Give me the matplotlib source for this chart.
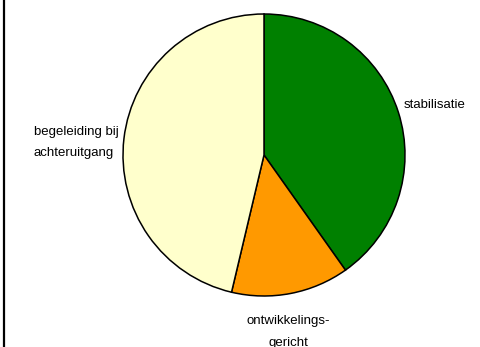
import numpy as np
import matplotlib.pyplot as plt
from matplotlib.lines import Line2D

plt.rcParams["font.family"] = ["Liberation Sans", "DejaVu Sans"]

labels = ["stabilisatie", "ontwikkelings-\ngericht", "begeleiding bij\nachteruitgang"]
values = [40.2, 13.5, 46.3]
colors = ["#008000", "#FF9900", "#FFFFCC"]

fig = plt.figure(figsize=(4.81, 3.47), dpi=100)
ax = fig.add_axes([123 / 481, 51 / 347, 282 / 481, 282 / 347])

wedges, texts = ax.pie(
    values, labels=labels, colors=colors, startangle=90, counterclock=False,
    radius=1.0, labeldistance=1.04,
    wedgeprops=dict(edgecolor="black", linewidth=1.1),
    textprops=dict(fontsize=9.5, linespacing=2.05),
)
ax.set_xlim(-1, 1)
ax.set_ylim(-1, 1)
ax.set_aspect("equal")
ax.axis("off")

# nudge labels to where the original puts them
x0, y0 = texts[0].get_position()
texts[0].set_position((x0, y0 + 0.042))
texts[1].set_position((0.175, -1.255))
texts[1].set_ha("center")
texts[1].set_va("center")
texts[2].set_position((texts[2].get_position()[0], 0.09))
for t in texts:
    t.set_clip_on(False)
    t.set_multialignment("center" if t is texts[1] else "left")

fig.add_artist(Line2D([4 / 481, 4 / 481], [0, 1], color="black", lw=1.6,
                      transform=fig.transFigure))

fig.savefig("out.png", dpi=100)
